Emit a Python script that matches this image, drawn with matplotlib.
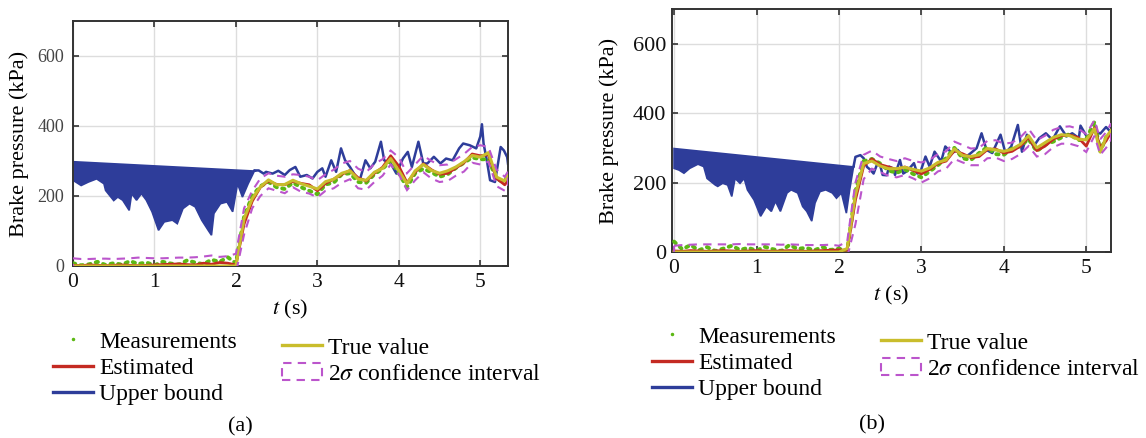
import matplotlib
matplotlib.use("Agg")
import matplotlib.pyplot as plt
import numpy as np
from matplotlib.lines import Line2D
from matplotlib.patches import Patch

plt.rcParams["font.family"] = ["Liberation Serif", "DejaVu Serif"]
plt.rcParams["mathtext.fontset"] = "stix"

# ---- panel (a) ----
t_a = np.append(np.round(np.arange(0, 5.31, 0.1), 2), 5.34)
true_a = [0] * 21 + [135, 192, 226, 246, 232, 233, 245, 235, 228, 220,
                     241, 248, 265, 272, 248, 245, 268, 279, 307, 272,
                     235, 272, 290, 273, 265, 272, 283, 298, 316, 311,
                     324, 254, 243, 259]
est_a = [2, 1, 3, 2, 1, 2, 3, 2, 1, 2, 3, 4, 5, 6, 4, 3, 8, 5, 10, 8, 3,
         120, 185, 225, 243, 233, 232, 242, 236, 232, 215,
         236, 248, 262, 273, 252, 243, 265, 282, 315, 285,
         238, 268, 292, 275, 262, 265, 280, 295, 320, 315,
         318, 250, 232, 245]
ci_up_a = [22, 20, 20, 21, 21, 20, 21, 22, 24, 23, 22, 22, 23, 24, 24, 25, 27, 30, 26, 28, 35,
           165, 215, 250, 265, 258, 255, 262, 260, 255, 245,
           262, 275, 293, 300, 278, 268, 292, 305, 330, 310,
           265, 290, 315, 300, 288, 290, 305, 320, 340, 345,
           340, 275, 255, 270]
ci_lo_a = [-20] * 21 + [90, 165, 200, 222, 215, 208, 225, 212, 207, 196,
                        215, 222, 238, 248, 222, 218, 240, 258, 290, 262,
                        217, 245, 268, 250, 240, 243, 258, 270, 295, 290,
                        298, 228, 215, 225]
meas_a = [8, 2, 5, 12, 3, 8, 4, 14, 6, 10, 2, 12, 7, 4, 16, 10, 5, 18, 12, 25, 8,
          140, 200, 228, 240, 225, 220, 238, 225, 215, 205,
          233, 238, 262, 265, 240, 238, 262, 278, 300, 265,
          225, 265, 278, 268, 255, 262, 280, 295, 310, 305,
          305, 248, 240, 262]
ub_top_t_a = [0, 2.25]
ub_top_v_a = [298, 271]
ub_env_t_a = [0, 0.10, 0.19, 0.29, 0.38, 0.40, 0.50, 0.55, 0.61, 0.69, 0.72, 0.78, 0.84,
              0.90, 0.97, 1.05, 1.12, 1.22, 1.28, 1.35, 1.43, 1.50, 1.58, 1.66, 1.70,
              1.73, 1.81, 1.89, 1.96, 2.02, 2.08, 2.15, 2.23]
ub_env_v_a = [245, 230, 240, 249, 235, 216, 187, 197, 188, 159, 207, 188, 207,
              188, 155, 102, 126, 131, 121, 164, 178, 169, 131, 102, 88,
              150, 178, 183, 155, 235, 197, 235, 273]
ub_t_a = [2.23, 2.28, 2.34, 2.37, 2.45, 2.52, 2.60, 2.66, 2.73, 2.79, 2.87, 2.94, 3.00,
          3.06, 3.10, 3.17, 3.23, 3.29, 3.34, 3.40, 3.46, 3.52, 3.59, 3.65, 3.71, 3.78,
          3.82, 3.90, 3.97, 4.05, 4.11, 4.16, 4.24, 4.30, 4.35, 4.43, 4.51, 4.58, 4.66,
          4.74, 4.79, 4.87, 4.95, 5.00, 5.02, 5.04, 5.08, 5.12, 5.18, 5.25, 5.29, 5.33, 5.34]
ub_v_a = [273, 273, 264, 269, 264, 272, 260, 274, 283, 255, 260, 250, 269,
          279, 255, 302, 269, 336, 302, 283, 260, 245, 302, 279, 298, 355,
          302, 293, 264, 307, 326, 283, 355, 293, 293, 312, 293, 307, 302,
          336, 350, 345, 336, 370, 405, 350, 302, 245, 240, 340, 330, 311, 292]

# ---- panel (b) ----
t_b = np.append(np.round(np.arange(0, 5.11, 0.1), 2), [5.17, 5.24, 5.30])
true_b = [0] * 21 + [10, 165, 255, 262, 248, 240, 240, 244, 238, 233,
                     242, 258, 265, 297, 278, 275, 280, 298, 294, 290,
                     296, 310, 335, 300, 315, 330, 338, 335, 325, 323,
                     355, 288, 331, 350]
est_b = [3, 2, 4, 3, 2, 3, 4, 3, 2, 3, 4, 3, 2, 3, 4, 3, 2, 3, 4, 5, 6,
         5, 150, 248, 268, 252, 245, 238, 245, 235, 225,
         238, 255, 262, 292, 283, 272, 275, 295, 297, 285,
         290, 305, 330, 292, 305, 325, 335, 337, 330, 305,
         358, 300, 320, 345]
ci_up_b = [18, 20, 21, 22, 22, 22, 22, 22, 23, 22, 22, 22, 22, 21, 22, 21, 20, 20, 20, 21, 18,
           30, 200, 280, 292, 275, 268, 262, 270, 262, 258,
           265, 282, 290, 318, 308, 298, 300, 320, 322, 312,
           315, 330, 355, 322, 335, 352, 360, 362, 355, 340,
           380, 325, 345, 370]
ci_lo_b = [-20] * 21 + [-15, 80, 210, 240, 230, 220, 215, 222, 212, 200,
                        212, 232, 240, 268, 258, 250, 250, 270, 272, 262,
                        268, 282, 305, 275, 282, 302, 312, 312, 305, 288,
                        335, 280, 300, 322]
meas_b = [30, 8, 20, 5, 14, 3, 10, 18, 6, 12, 4, 15, 8, 3, 20, 9, 12, 5, 14, 6, 10,
          3, 175, 262, 268, 255, 235, 228, 238, 225, 215,
          232, 250, 270, 300, 270, 265, 285, 302, 282, 280,
          298, 305, 325, 290, 310, 318, 330, 340, 322, 325,
          375, 290, 330, 345]
ub_top_t_b = [0, 2.18]
ub_top_v_b = [298, 245]
ub_env_t_b = [0, 0.06, 0.12, 0.19, 0.29, 0.36, 0.40, 0.50, 0.53, 0.59, 0.65, 0.70, 0.74,
              0.80, 0.85, 0.89, 0.97, 1.05, 1.12, 1.18, 1.23, 1.29, 1.37, 1.42, 1.50,
              1.56, 1.61, 1.67, 1.71, 1.77, 1.84, 1.92, 1.97, 2.03, 2.09, 2.13, 2.18]
ub_env_v_b = [241, 236, 227, 241, 253, 246, 212, 193, 189, 198, 193, 160, 212,
              198, 212, 179, 150, 103, 131, 117, 146, 117, 170, 179, 170,
              131, 117, 89, 141, 174, 179, 170, 155, 170, 112, 179, 250]
ub_t_b = [2.18, 2.20, 2.26, 2.30, 2.34, 2.38, 2.42, 2.46, 2.50, 2.53, 2.58, 2.61, 2.66,
          2.68, 2.74, 2.78, 2.82, 2.87, 2.91, 2.95, 2.99, 3.05, 3.10, 3.16, 3.24, 3.29,
          3.37, 3.44, 3.52, 3.60, 3.67, 3.73, 3.79, 3.86, 3.96, 4.02, 4.09, 4.17, 4.22,
          4.28, 4.36, 4.43, 4.51, 4.59, 4.68, 4.76, 4.83, 4.91, 4.93, 5.01, 5.09, 5.17,
          5.24, 5.30]
ub_v_b = [250, 274, 279, 270, 245, 237, 226, 251, 250, 222, 221, 246, 240,
          222, 265, 226, 232, 245, 256, 226, 232, 275, 246, 289, 261, 304,
          285, 294, 270, 285, 299, 342, 294, 285, 338, 285, 304, 366, 289,
          338, 304, 328, 342, 323, 362, 333, 342, 328, 364, 331, 350, 341,
          360, 345]

C_BLUE = "#2e3d9a"
C_RED = "#c42a22"
C_YEL = "#c9bd2c"
C_MAG = "#bb55cc"
C_GRN = "#5cb814"


def draw_panel(ax, t, true, est, ci_up, ci_lo, meas, top_t, top_v, env_t, env_v,
               ub_t, ub_v, xlim, ysize, ycolor, ytickpad, ypad):
    ax.fill(np.r_[top_t, env_t[::-1]], np.r_[top_v, env_v[::-1]],
            color=C_BLUE, lw=1.2, zorder=2)
    ax.plot(ub_t, ub_v, color=C_BLUE, lw=1.8, zorder=2)
    ax.plot(t, meas, color=C_GRN, lw=2.8, ls=(0, (0.6, 1.4)),
            dash_capstyle="round", zorder=3)
    ax.plot(t, est, color=C_RED, lw=2.0, zorder=4)
    ax.plot(t, true, color=C_YEL, lw=2.2, zorder=5)
    ax.fill(np.r_[t, t[::-1]], np.r_[ci_up, np.asarray(ci_lo)[::-1]],
            fill=False, edgecolor=C_MAG, lw=1.5, ls=(0, (4, 3)), zorder=6)

    ax.set_xlim(*xlim)
    ax.set_ylim(0, 700)
    ax.set_xticks([0, 1, 2, 3, 4, 5])
    ax.set_yticks([0, 200, 400, 600])
    ax.grid(True, color="#dddddd", lw=1.0, zorder=0)
    ax.set_axisbelow(True)
    ax.tick_params(direction="in", top=True, right=True, length=4,
                   width=1.2, color="#333333")
    ax.tick_params(axis="x", labelsize=15.5, pad=5, labelcolor="#111111")
    ax.tick_params(axis="y", labelsize=ysize, pad=ytickpad, labelcolor=ycolor)
    for sp in ax.spines.values():
        sp.set_color("#333333")
        sp.set_linewidth(1.4)
    ax.set_xlabel("$t$ (s)", fontsize=16, labelpad=4)
    ax.set_ylabel("Brake pressure (kPa)", fontsize=16, labelpad=ypad)


fig = plt.figure(figsize=(11.46, 4.38), dpi=100)
W, H = 1146, 438
ax_a = fig.add_axes([73 / W, 1 - 266 / H, 435 / W, 245 / H])
ax_b = fig.add_axes([672 / W, 1 - 252 / H, 439 / W, 243 / H])

draw_panel(ax_a, t_a, true_a, est_a, ci_up_a, ci_lo_a, meas_a,
           ub_top_t_a, ub_top_v_a, ub_env_t_a, ub_env_v_a, ub_t_a, ub_v_a,
           (0, 5.34), 13, "#444444", 6.5, 6)
draw_panel(ax_b, t_b, true_b, est_b, ci_up_b, ci_lo_b, meas_b,
           ub_top_t_b, ub_top_v_b, ub_env_t_b, ub_env_v_b, ub_t_b, ub_v_b,
           (-0.025, 5.3), 16, "#111111", 4, 10)

col1_handles = [
    Line2D([], [], ls="none", marker=".", ms=3, color=C_GRN),
    Line2D([], [], color=C_RED, lw=2.4),
    Line2D([], [], color=C_BLUE, lw=2.4),
]
col1_labels = ["Measurements", "Estimated", "Upper bound"]
col2_handles = [
    Line2D([], [], color=C_YEL, lw=2.4),
    Patch(facecolor="none", edgecolor=C_MAG, lw=1.5, ls=(0, (4, 3))),
]
col2_labels = ["True value", r"2$\sigma$ confidence interval"]

legend_kw = dict(loc="upper left", frameon=False, fontsize=17, handlelength=1.69,
                 handletextpad=0.28, labelspacing=0.2, borderpad=0,
                 borderaxespad=0)
# legend anchors (pixels): column 1 and column 2 for each panel
for (x1, y1), (x2, y2) in [((52.7, 331), (281.7, 337)), ((651.7, 326), (880.7, 332))]:
    fig.legend(col1_handles, col1_labels, bbox_to_anchor=(x1 / W, 1 - y1 / H), **legend_kw)
    fig.legend(col2_handles, col2_labels, bbox_to_anchor=(x2 / W, 1 - y2 / H), **legend_kw)

fig.text(240 / W, 1 - 427 / H, "(a)", ha="center", va="center", fontsize=16)
fig.text(872 / W, 1 - 425 / H, "(b)", ha="center", va="center", fontsize=16)

fig.savefig("out.png", dpi=100)
